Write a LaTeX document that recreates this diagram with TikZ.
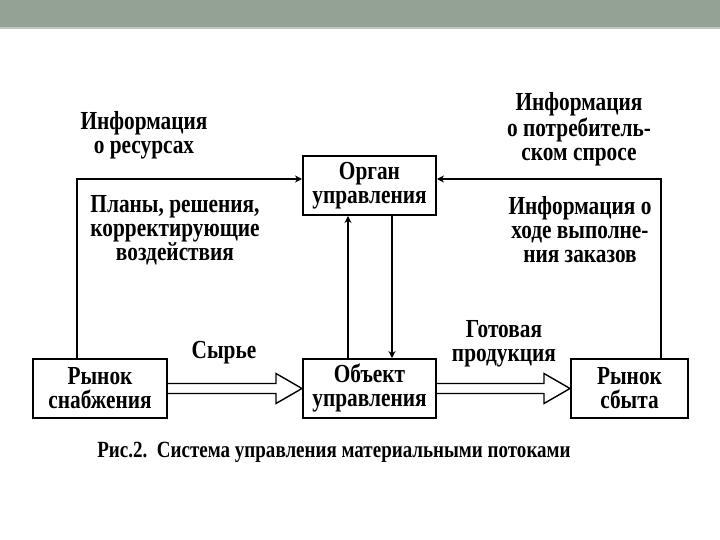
\documentclass[tikz,border=0pt]{standalone}
\usepackage{fontspec}
\setmainfont{Liberation Serif}[BoldFont={Liberation Serif Bold}, BoldFeatures={FakeStretch=0.82}]
\usepackage{tikz}
\usetikzlibrary{arrows.meta,calc}

\definecolor{barcol}{RGB}{148,162,150}

% hollow double flow arrow from one box to the next
\newcommand{\flowarrow}[2]{%
  \draw[flow] ($(#1.east)+(0,2.5pt)$) -- ($(#2.west)+(-13pt,2.5pt)$)
    -- ($(#2.west)+(-13pt,7.5pt)$) -- (#2.west)
    -- ($(#2.west)+(-13pt,-7.5pt)$) -- ($(#2.west)+(-13pt,-2.5pt)$)
    -- ($(#1.east)+(0,-2.5pt)$);}

\begin{document}
\begin{tikzpicture}[
    x=0.5pt, y=-0.5pt, >={Stealth[length=3.5pt,width=3.5pt]},
    every node/.style={font=\rmfamily\fontsize{13}{12}\selectfont\bfseries, align=center},
    box/.style={draw, line width=1pt, minimum width=66.5pt, minimum height=29.5pt, inner sep=1pt},
    wire/.style={line width=0.7pt},
    flow/.style={line width=0.7pt, line join=miter}
  ]
  \useasboundingbox (0,0) rectangle (720,540);
  \fill[barcol] (0,0) rectangle (720,27);
  \fill[barcol!60!white] (0,27) rectangle (720,29);

  \node[box] (organ) at (369.5,185.5) {Орган\\управления};
  \node[box] (obj) at (369.5,388.5) {Объект\\управления};
  \node[box, minimum width=67pt] (snab) at (100,388.5) {Рынок\\снабжения};
  \node[box, minimum width=58.5pt] (sbyt) at (629.5,388.5) {Рынок\\сбыта};

  \node (info1) at (144,135) {Информация\\о ресурсах};
  \node (plans) at (175,230) {Планы, решения,\\корректирующие\\воздействия};
  \node (info2) at (579,129) {Информация\\о потребитель-\\ском спросе};
  \node (info3) at (580,230) {Информация о\\ходе выполне-\\ния заказов};
  \node (raw) at (224,353) {Сырье};
  \node (prod) at (504,344) {Готовая\\продукция};
  \node[font=\rmfamily\fontsize{11.6}{12}\selectfont\bfseries] (cap) at (334,452)
    {Рис.2.\ \ Система управления материальными потоками};

  \draw[wire,->] ([xshift=-11.5pt]snab.north) |- ([yshift=3.25pt]organ.west);
  \draw[wire,->] ([xshift=15.75pt]sbyt.north) |- ([yshift=3.25pt]organ.east);
  \draw[wire,->] ([xshift=-10.75pt]obj.north) -- ([xshift=-10.75pt]organ.south);
  \draw[wire,->] ([xshift=11.25pt]organ.south) -- ([xshift=11.25pt]obj.north);

  \flowarrow{snab}{obj}
  \flowarrow{obj}{sbyt}
\end{tikzpicture}
\end{document}
